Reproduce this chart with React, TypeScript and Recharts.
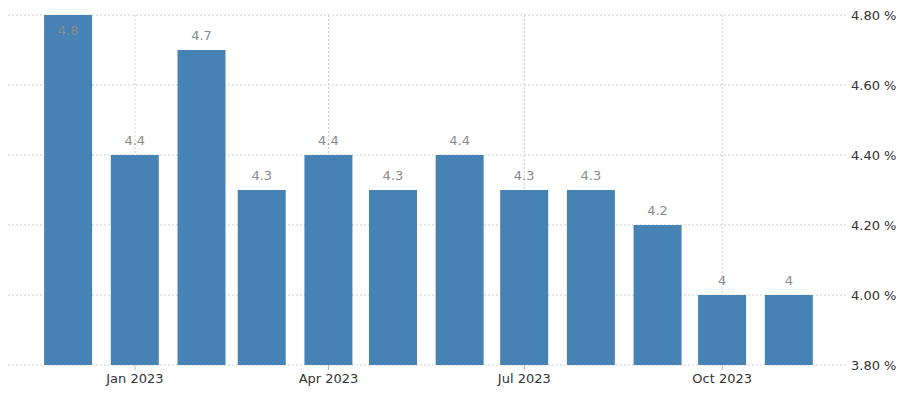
import React from 'react';
import { BarChart, Bar, XAxis, YAxis, CartesianGrid, LabelList } from 'recharts';

const months = ['2022-12', '2023-01', '2023-02', '2023-03', '2023-04', '2023-05', '2023-06', '2023-07', '2023-08', '2023-09', '2023-10', '2023-11'];
const rates = [4.8, 4.4, 4.7, 4.3, 4.4, 4.3, 4.4, 4.3, 4.3, 4.2, 4, 4];
const yTicks = [3.8, 4.0, 4.2, 4.4, 4.6, 4.8];
const xTickMonths = ['2023-01', '2023-04', '2023-07', '2023-10'];

const monthNames = ['Jan', 'Feb', 'Mar', 'Apr', 'May', 'Jun', 'Jul', 'Aug', 'Sep', 'Oct', 'Nov', 'Dec'];

const toTime = (m: string) => {
  const [y, mo] = m.split('-').map(Number);
  return Date.UTC(y, mo - 1, 1);
};

const data = months.map((m, i) => ({ t: toTime(m), rate: rates[i] }));
const xTicks = xTickMonths.map(toTime);

const fmtMonth = (t: number) => {
  const d = new Date(t);
  return `${monthNames[d.getUTCMonth()]} ${d.getUTCFullYear()}`;
};

const font = 'DejaVu Sans, Verdana, sans-serif';

// value labels sit above the bar, or inside when the bar reaches the top
const BarLabel = (props: any) => {
  const { x, y, width, value } = props;
  const inside = y < 30;
  return (
    <text
      x={x + width / 2}
      y={inside ? y + 20 : y - 10}
      textAnchor="middle"
      fill="#8a8a8a"
      fontSize={13}
      fontFamily={font}
    >
      {value}
    </text>
  );
};

export default function App() {
  return (
    <div style={{ position: 'absolute', left: 0, top: 0, background: '#fff' }}>
      <BarChart width={900} height={397} data={data} margin={{ top: 15, right: 0, bottom: 7, left: 8 }}>
        <CartesianGrid stroke="#cfcfcf" strokeDasharray="2 2" syncWithTicks />
        <XAxis
          dataKey="t"
          type="number"
          scale="time"
          domain={[Date.UTC(2022, 10, 3), Date.UTC(2023, 10, 28)]}
          ticks={xTicks}
          tickFormatter={fmtMonth}
          axisLine={false}
          tickLine={{ stroke: '#bbb' }}
          tickSize={5}
          tickMargin={4}
          height={25}
          tick={{ fill: '#333', fontSize: 13, fontFamily: font }}
        />
        <YAxis
          orientation="right"
          type="number"
          domain={[3.8, 4.8]}
          ticks={yTicks}
          allowDataOverflow
          tickFormatter={(v: number) => `${v.toFixed(2)} %`}
          axisLine={false}
          tickLine={false}
          tickSize={0}
          tickMargin={4}
          width={53}
          tick={{ fill: '#333', fontSize: 13, fontFamily: font }}
        />
        <Bar dataKey="rate" fill="#4682b4" barSize={48} isAnimationActive={false}>
          <LabelList dataKey="rate" content={BarLabel} />
        </Bar>
      </BarChart>
    </div>
  );
}
